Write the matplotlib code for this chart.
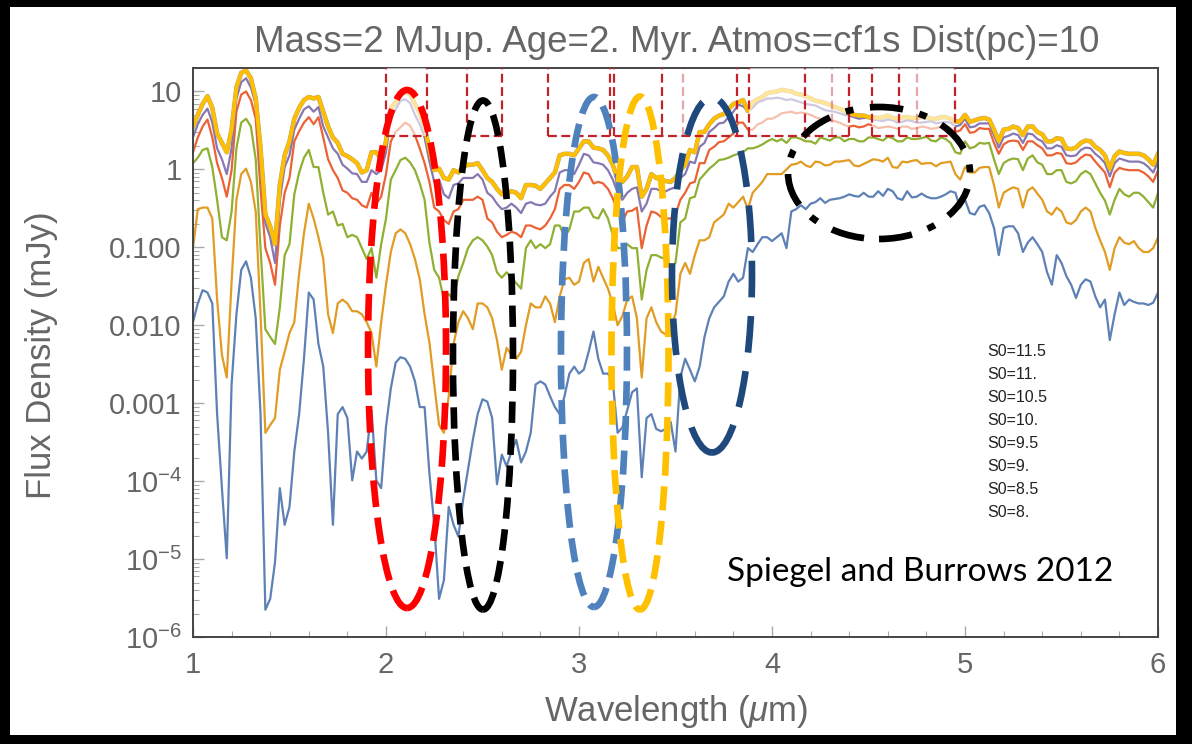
import numpy as np
import matplotlib
matplotlib.use('Agg')
import matplotlib.pyplot as plt
from matplotlib.patches import Ellipse, Rectangle
from matplotlib.ticker import LogLocator, NullFormatter, MultipleLocator

plt.rcParams['font.family'] = ['Liberation Sans', 'DejaVu Sans']
plt.rcParams['mathtext.fontset'] = 'custom'
plt.rcParams['mathtext.rm'] = 'Liberation Sans'
plt.rcParams['mathtext.it'] = 'Liberation Sans:italic'

# wavelength grid (micron), 1.000 ... 6.000 in 0.025 steps
wavelength = np.linspace(1.0, 6.0, 201)

# log10 flux density (mJy), one row = 0.25 micron
log_flux_s0_8 = [
    -1.96, -1.72, -1.55, -1.58, -1.72, -3.14, -4.09, -4.99, -2.76, -1.86,
    -1.29, -1.18, -1.39, -1.91, -3.14, -5.65, -5.51, -5.04, -4.09, -4.56,
    -4.33, -3.62, -3.14, -2.43, -1.58, -1.67, -2.24, -2.53, -3.38, -4.56,
    -3.14, -3.05, -3.19, -3.99, -3.62, -3.71, -3.62, -3.09, -3.99, -4.09,
    -3.30, -2.81, -2.48, -2.41, -2.43, -2.53, -2.72, -3.05, -3.05, -3.90,
    -4.56, -5.51, -5.27, -4.33, -4.56, -4.71, -4.23, -3.85, -3.47, -3.14,
    -2.95, -2.98, -3.19, -4.04, -3.66, -3.81, -3.62, -3.47, -3.76, -3.62,
    -3.38, -2.76, -2.72, -2.76, -2.91, -3.05, -3.14, -2.91, -2.62, -2.53,
    -2.62, -2.57, -2.34, -2.08, -2.43, -2.62, -2.62, -2.72, -3.38, -3.31,
    -3.09, -2.86, -2.81, -3.95, -3.19, -3.14, -3.33, -3.36, -3.33, -3.24,
    -3.62, -2.67, -2.43, -2.57, -2.72, -2.53, -2.15, -1.91, -1.77, -1.70,
    -1.63, -1.44, -1.34, -1.44, -1.39, -1.01, -1.06, -0.96, -0.87, -0.87,
    -0.92, -0.87, -0.82, -1.01, -0.54, -0.51, -0.46, -0.51, -0.44, -0.42,
    -0.37, -0.43, -0.39, -0.38, -0.37, -0.35, -0.32, -0.34, -0.35, -0.30,
    -0.35, -0.35, -0.28, -0.34, -0.25, -0.28, -0.37, -0.39, -0.28, -0.36,
    -0.35, -0.31, -0.35, -0.37, -0.37, -0.35, -0.32, -0.28, -0.30, -0.49,
    -0.39, -0.56, -0.58, -0.48, -0.46, -0.56, -0.75, -1.10, -0.75, -0.73,
    -0.73, -0.82, -1.06, -0.94, -0.87, -0.96, -1.06, -1.32, -1.48, -1.10,
    -1.20, -1.37, -1.48, -1.65, -1.48, -1.41, -1.44, -1.63, -1.77, -1.67,
    -2.19, -1.86, -1.58, -1.74, -1.67, -1.70, -1.72, -1.72, -1.74, -1.71,
    -1.58]

log_flux_s0_8_5 = [
    -1.01, -0.51, -0.49, -0.49, -0.63, -1.67, -2.38, -2.67, -1.44, -0.39,
    -0.06, 0.01, -0.16, -0.54, -1.86, -3.38, -3.28, -3.19, -2.57, -2.34,
    -2.10, -1.96, -1.34, -0.82, -0.44, -0.63, -0.87, -1.15, -1.86, -2.10,
    -1.72, -1.67, -1.72, -1.82, -1.82, -1.86, -1.96, -2.10, -2.53, -1.96,
    -1.48, -1.06, -0.82, -0.77, -0.82, -0.96, -1.15, -1.41, -1.86, -2.22,
    -2.76, -3.28, -3.38, -2.91, -2.24, -1.96, -1.82, -1.91, -2.05, -1.72,
    -1.72, -1.77, -1.91, -2.19, -2.57, -2.29, -2.38, -2.43, -2.34, -2.00,
    -1.72, -1.77, -1.77, -1.63, -1.72, -1.96, -1.63, -1.41, -1.39, -1.48,
    -1.44, -1.20, -1.15, -1.44, -1.25, -1.39, -1.53, -1.72, -2.00, -1.88,
    -1.67, -1.63, -1.91, -2.67, -1.91, -1.77, -1.96, -2.08, -2.12, -2.00,
    -1.86, -1.34, -1.20, -1.34, -1.10, -0.91, -0.91, -0.87, -0.68, -0.63,
    -0.58, -0.44, -0.49, -0.42, -0.35, -0.51, -0.30, -0.23, -0.16, -0.06,
    -0.06, -0.06, -0.06, 0.00, 0.06, 0.07, 0.10, 0.05, 0.03, 0.10,
    0.09, 0.05, 0.06, 0.10, 0.10, 0.11, 0.12, 0.05, 0.04, 0.07,
    0.10, 0.13, 0.12, 0.10, 0.15, 0.03, 0.02, 0.10, 0.09, 0.11,
    0.12, 0.07, 0.08, 0.08, 0.04, 0.08, 0.09, 0.10, -0.06, -0.13,
    0.03, -0.04, -0.04, 0.02, 0.03, 0.03, -0.20, -0.49, -0.30, -0.26,
    -0.23, -0.25, -0.49, -0.27, -0.23, -0.31, -0.39, -0.54, -0.58, -0.49,
    -0.54, -0.68, -0.70, -0.65, -0.54, -0.49, -0.54, -0.75, -0.91, -1.06,
    -1.29, -1.01, -0.87, -0.94, -0.96, -0.92, -1.01, -1.06, -1.06, -1.01,
    -0.87]

log_flux_s0_9 = [
    0.08, 0.15, 0.25, 0.27, 0.03, -0.39, -0.87, -0.91, -0.54, 0.27,
    0.60, 0.65, 0.55, 0.13, -1.01, -2.05, -2.15, -2.24, -1.77, -1.10,
    -0.96, -0.32, -0.04, 0.15, 0.25, 0.03, 0.03, -0.30, -0.58, -0.54,
    -0.72, -0.70, -0.87, -0.84, -0.87, -1.01, -1.15, -1.01, -1.39, -0.96,
    -0.63, -0.13, -0.01, 0.12, 0.15, 0.09, -0.01, -0.18, -0.39, -0.94,
    -1.29, -1.39, -1.67, -1.60, -1.67, -1.37, -1.20, -1.01, -0.91, -0.87,
    -0.91, -0.99, -1.10, -1.32, -1.39, -1.32, -1.39, -1.46, -1.53, -1.01,
    -0.91, -1.01, -0.96, -1.01, -0.96, -0.72, -0.72, -0.87, -0.77, -0.54,
    -0.54, -0.49, -0.49, -0.61, -0.63, -0.51, -0.63, -0.84, -1.01, -1.01,
    -0.96, -1.01, -1.01, -1.67, -1.29, -1.10, -1.10, -1.13, -1.15, -1.25,
    -1.20, -0.68, -0.63, -0.37, -0.35, -0.13, -0.06, 0.01, 0.06, 0.12,
    0.13, 0.15, 0.18, 0.20, 0.22, 0.27, 0.27, 0.29, 0.32, 0.36,
    0.39, 0.36, 0.39, 0.34, 0.41, 0.41, 0.39, 0.36, 0.36, 0.33,
    0.41, 0.39, 0.37, 0.41, 0.41, 0.36, 0.39, 0.39, 0.36, 0.36,
    0.41, 0.41, 0.39, 0.37, 0.42, 0.40, 0.36, 0.36, 0.41, 0.39,
    0.39, 0.40, 0.42, 0.37, 0.36, 0.41, 0.39, 0.34, 0.22, 0.20,
    0.36, 0.27, 0.29, 0.34, 0.33, 0.34, 0.13, -0.06, 0.08, 0.12,
    0.14, 0.13, -0.01, 0.14, 0.18, 0.09, 0.06, -0.06, -0.06, -0.01,
    -0.01, -0.16, -0.18, -0.15, -0.06, -0.02, -0.06, -0.18, -0.30, -0.40,
    -0.58, -0.39, -0.25, -0.32, -0.35, -0.30, -0.30, -0.35, -0.42, -0.49,
    -0.30]

log_flux_s0_9_5 = [
    0.22, 0.41, 0.55, 0.64, 0.41, 0.08, -0.11, -0.35, -0.01, 0.74,
    0.96, 1.00, 0.89, 0.65, -0.25, -1.01, -1.20, -1.48, -0.72, -0.30,
    -0.11, 0.36, 0.49, 0.60, 0.67, 0.58, 0.67, 0.41, 0.13, -0.01,
    -0.11, -0.27, -0.30, -0.37, -0.39, -0.46, -0.49, -0.30, -0.44, -0.35,
    -0.06, 0.36, 0.48, 0.54, 0.60, 0.56, 0.44, 0.27, 0.08, -0.16,
    -0.49, -0.54, -0.65, -0.70, -0.54, -0.51, -0.39, -0.39, -0.39, -0.35,
    -0.39, -0.63, -0.68, -0.80, -0.87, -0.84, -0.80, -0.82, -0.87, -0.72,
    -0.72, -0.75, -0.77, -0.72, -0.63, -0.51, -0.25, -0.20, -0.20, -0.25,
    -0.16, -0.04, -0.06, -0.18, -0.16, -0.18, -0.25, -0.37, -0.54, -0.67,
    -0.54, -0.53, -0.49, -1.01, -0.72, -0.54, -0.56, -0.61, -0.63, -0.63,
    -0.58, -0.39, -0.30, -0.18, -0.16, 0.08, 0.08, 0.25, 0.29, 0.35,
    0.36, 0.41, 0.46, 0.60, 0.60, 0.51, 0.51, 0.58, 0.60, 0.65,
    0.65, 0.68, 0.72, 0.73, 0.74, 0.72, 0.73, 0.72, 0.70, 0.67,
    0.65, 0.64, 0.63, 0.62, 0.60, 0.57, 0.55, 0.56, 0.54, 0.55,
    0.58, 0.56, 0.53, 0.54, 0.55, 0.54, 0.52, 0.55, 0.55, 0.52,
    0.53, 0.55, 0.54, 0.52, 0.53, 0.55, 0.55, 0.53, 0.48, 0.50,
    0.58, 0.47, 0.48, 0.53, 0.52, 0.52, 0.34, 0.20, 0.32, 0.36,
    0.37, 0.36, 0.25, 0.36, 0.36, 0.31, 0.27, 0.18, 0.18, 0.21,
    0.20, 0.08, 0.07, 0.09, 0.15, 0.19, 0.18, 0.10, 0.03, -0.04,
    -0.23, -0.04, 0.02, 0.00, -0.01, -0.01, -0.01, -0.04, -0.09, -0.16,
    -0.01]

log_flux_s0_10 = [
    0.41, 0.58, 0.70, 0.78, 0.60, 0.27, 0.13, -0.06, 0.27, 0.91,
    1.12, 1.17, 1.05, 0.84, 0.03, -0.69, -0.87, -1.20, -0.39, 0.03,
    0.18, 0.51, 0.65, 0.77, 0.81, 0.74, 0.80, 0.55, 0.41, 0.27,
    0.20, 0.06, 0.01, -0.05, -0.06, -0.16, -0.16, -0.01, -0.06, -0.01,
    0.22, 0.67, 0.77, 0.88, 0.90, 0.85, 0.70, 0.58, 0.41, 0.10,
    -0.16, -0.13, -0.32, -0.37, -0.20, -0.18, -0.11, -0.11, -0.11, -0.06,
    -0.13, -0.30, -0.35, -0.44, -0.51, -0.49, -0.44, -0.49, -0.56, -0.44,
    -0.42, -0.45, -0.46, -0.44, -0.35, -0.28, -0.04, -0.01, -0.01, -0.06,
    0.06, 0.20, 0.18, 0.09, 0.08, 0.06, -0.01, -0.13, -0.30, -0.39,
    -0.30, -0.25, -0.23, -0.54, -0.44, -0.25, -0.25, -0.28, -0.28, -0.25,
    -0.23, -0.11, -0.06, 0.10, 0.08, 0.29, 0.34, 0.48, 0.53, 0.59,
    0.60, 0.67, 0.74, 0.83, 0.81, 0.75, 0.79, 0.86, 0.88, 0.91,
    0.91, 0.92, 0.91, 0.89, 0.90, 0.88, 0.86, 0.84, 0.83, 0.82,
    0.79, 0.76, 0.75, 0.74, 0.72, 0.70, 0.69, 0.67, 0.65, 0.66,
    0.66, 0.64, 0.63, 0.62, 0.64, 0.63, 0.60, 0.61, 0.63, 0.62,
    0.60, 0.60, 0.61, 0.62, 0.59, 0.60, 0.61, 0.60, 0.55, 0.57,
    0.65, 0.54, 0.55, 0.59, 0.59, 0.59, 0.44, 0.28, 0.41, 0.43,
    0.46, 0.44, 0.34, 0.46, 0.45, 0.39, 0.36, 0.27, 0.27, 0.31,
    0.29, 0.18, 0.17, 0.18, 0.25, 0.28, 0.27, 0.20, 0.15, 0.08,
    -0.09, 0.08, 0.14, 0.12, 0.10, 0.10, 0.10, 0.08, 0.03, -0.04,
    0.10]

# S0 = 10.5, 11 and 11.5 lie on top of each other in the picture
log_flux_s0_top = [
    0.55, 0.70, 0.84, 0.94, 0.79, 0.46, 0.34, 0.22, 0.51, 1.05,
    1.24, 1.27, 1.17, 0.91, 0.27, -0.58, -0.73, -0.96, -0.20, 0.18,
    0.36, 0.65, 0.79, 0.89, 0.93, 0.91, 0.93, 0.74, 0.55, 0.41,
    0.34, 0.20, 0.17, 0.13, 0.08, -0.04, -0.01, 0.22, 0.22, 0.13,
    0.36, 0.79, 0.86, 0.97, 0.99, 0.97, 0.84, 0.72, 0.55, 0.25,
    -0.01, 0.01, -0.11, -0.13, -0.01, -0.04, 0.03, 0.06, 0.06, 0.08,
    -0.01, -0.11, -0.16, -0.25, -0.32, -0.31, -0.28, -0.30, -0.37, -0.20,
    -0.20, -0.21, -0.25, -0.18, -0.11, -0.04, 0.18, 0.20, 0.20, 0.18,
    0.27, 0.36, 0.36, 0.28, 0.27, 0.25, 0.18, 0.06, -0.13, -0.16,
    -0.09, 0.03, 0.03, -0.35, -0.25, -0.06, -0.11, -0.13, -0.15, -0.16,
    -0.11, -0.01, 0.06, 0.25, 0.22, 0.48, 0.48, 0.58, 0.65, 0.69,
    0.71, 0.77, 0.84, 0.86, 0.89, 0.75, 0.86, 0.90, 0.93, 0.98,
    0.99, 1.00, 1.02, 1.01, 1.00, 0.97, 0.96, 0.94, 0.91, 0.88,
    0.87, 0.85, 0.83, 0.80, 0.78, 0.75, 0.72, 0.70, 0.69, 0.69,
    0.67, 0.67, 0.66, 0.67, 0.69, 0.66, 0.65, 0.67, 0.67, 0.66,
    0.66, 0.67, 0.67, 0.65, 0.65, 0.67, 0.67, 0.65, 0.61, 0.62,
    0.70, 0.61, 0.63, 0.65, 0.66, 0.64, 0.51, 0.36, 0.51, 0.52,
    0.55, 0.53, 0.44, 0.55, 0.55, 0.48, 0.45, 0.36, 0.36, 0.40,
    0.39, 0.27, 0.26, 0.28, 0.34, 0.37, 0.36, 0.29, 0.25, 0.18,
    0.01, 0.17, 0.23, 0.21, 0.20, 0.20, 0.20, 0.18, 0.13, 0.06,
    0.20]

series_labels = ['S0=11.5', 'S0=11.', 'S0=10.5', 'S0=10.', 'S0=9.5', 'S0=9.', 'S0=8.5', 'S0=8.']

# filter band edges (micron) drawn as dashed boxes at the top
filter_edges = [2.00, 2.21, 2.42, 2.60, 2.84, 3.16, 3.18, 3.43, 3.54, 3.82,
                3.88, 4.17, 4.31, 4.40, 4.52, 4.66, 4.75, 4.95]
filter_faint = [3.54, 4.31, 4.75]
filter_bottoms = [(2.00, 2.21), (2.42, 2.60), (2.84, 4.40), (4.52, 4.95)]
filter_level = 2.7
faded_bands = [(2.00, 2.21), (3.88, 4.40), (4.52, 4.95)]

ytick_vals = [10, 1, 0.1, 0.01, 0.001, 1e-4, 1e-5, 1e-6]
ytick_labels = ['10', '1', '0.100', '0.010', '0.001', '$10^{-4}$', '$10^{-5}$', '$10^{-6}$']

fig = plt.figure(figsize=(11.92, 7.44), dpi=100, facecolor='black')
fig.add_artist(Rectangle((10 / 1192, 9 / 744), 1166 / 1192, 728 / 744,
                         transform=fig.transFigure, facecolor='white',
                         edgecolor='none', zorder=-10))
ax = fig.add_axes([0.1619, 0.1438, 0.8096, 0.7648])

curves = [
    (log_flux_s0_8, '#5e81b5', 1.6, 1.0),
    (log_flux_s0_8_5, '#e19c24', 1.6, 1.0),
    (log_flux_s0_9, '#8fb032', 1.6, 1.0),
    (log_flux_s0_9_5, '#eb6235', 1.6, 1.0),
    (log_flux_s0_10, '#8778b3', 1.6, 1.0),
    (log_flux_s0_top, '#c56e1a', 3.4, 0.45),
    (log_flux_s0_top, '#5d9ec7', 2.8, 1.0),
    (log_flux_s0_top, '#ffbf00', 2.8, 1.0),
]
for vals, col, lw, a in curves:
    ax.plot(wavelength, 10 ** np.array(vals), color=col, lw=lw, alpha=a,
            zorder=2)

ax.set_yscale('log')
ax.set_xlim(1, 6)
ax.set_ylim(1e-6, 20)

# washed-out look inside the filter boxes
for x0, x1 in faded_bands:
    ax.fill_between([x0, x1], filter_level, 20, color='white', alpha=0.6,
                    lw=0, zorder=3)

fcol = '#c4222a'
for x in filter_edges:
    a = 0.4 if x in filter_faint else 1.0
    ax.vlines(x, filter_level, 20, colors=fcol, linestyles=(0, (4, 2)),
              lw=1.6, alpha=a, zorder=4)
for x0, x1 in filter_bottoms:
    ax.hlines(filter_level, x0, x1, colors=fcol, linestyles=(0, (4, 2)),
              lw=1.6, zorder=4)

# hand-drawn highlight ellipses (axes fraction)
ellipses = [
    ((0.2218, 0.5062), 0.0808, 0.9104, '#ff0000', (0, (4.0, 1.6))),
    ((0.3005, 0.4956), 0.0622, 0.8946, '#000000', (0, (3.2, 1.6))),
    ((0.4155, 0.5009), 0.0684, 0.8963, '#4f81bd', (0, (3.6, 1.6))),
    ((0.4632, 0.4991), 0.0591, 0.9016, '#ffc000', (0, (3.6, 1.6))),
    ((0.5378, 0.6362), 0.0829, 0.6239, '#1f497d', (0, (5.5, 2.8))),
    ((0.7109, 0.8155), 0.1886, 0.2320, '#000000', (0, (5.0, 2.5, 1.2, 2.5))),
]
for xy, w, h, col, ls in ellipses:
    ax.add_patch(Ellipse(xy, w, h, transform=ax.transAxes, fill=False,
                         edgecolor=col, lw=4.8, linestyle=ls, zorder=6))

ax.set_yticks(ytick_vals)
ax.set_yticklabels(ytick_labels)
ax.yaxis.set_minor_locator(LogLocator(base=10, subs=np.arange(2, 10)))
ax.yaxis.set_minor_formatter(NullFormatter())
ax.set_xticks([1, 2, 3, 4, 5, 6])
ax.xaxis.set_minor_locator(MultipleLocator(0.2))
ax.tick_params(which='both', direction='in', color='#aaaaaa',
               labelcolor='#666666', labelsize=21)
ax.tick_params(which='major', length=8, width=1)
ax.tick_params(which='minor', length=4, width=0.8)
ax.tick_params(axis='x', pad=10)
ax.tick_params(axis='y', pad=8)
for sp in ax.spines.values():
    sp.set_color('#444444')
    sp.set_linewidth(1.4)

fig.text(0.5675, 1 - 42 / 744, 'Mass=2 MJup. Age=2. Myr. Atmos=cf1s Dist(pc)=10',
         ha='center', va='center', fontsize=26.5, color='#666666')
fig.text(42 / 1192, 1 - 355 / 744, 'Flux Density (mJy)', rotation=90,
         ha='center', va='center', fontsize=25, color='#666666')
fig.text(676 / 1192, 1 - 712 / 744, r'Wavelength ($\mu$m)',
         ha='center', va='center', fontsize=25, color='#666666')

for i, lab in enumerate(series_labels):
    fig.text(987 / 1192, 1 - (352 + i * 22.9) / 744, lab, ha='left',
             va='center', fontsize=11.5, color='#222222')

fig.text(727 / 1192, 1 - 572 / 744, 'Spiegel and Burrows 2012',
         ha='left', va='center', fontsize=24, color='black',
         family=['Lato', 'DejaVu Sans'])

fig.savefig('out.png', dpi=100, facecolor=fig.get_facecolor())
